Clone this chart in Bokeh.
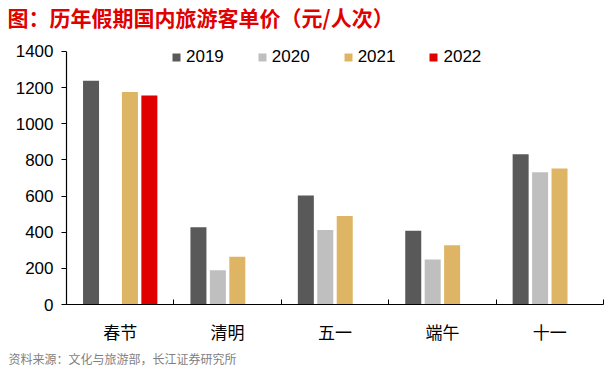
from bokeh.plotting import figure
from bokeh.layouts import column
from bokeh.models import Range1d, FixedTicker, Title, Legend, LegendItem, ColumnDataSource
from bokeh.core.properties import value
from bokeh.embed import file_html
from bokeh.resources import INLINE

# ---- data ----
categories = ["春节", "清明", "五一", "端午", "十一"]
years = ["2019", "2020", "2021", "2022"]
v2019 = [1238, 427, 603, 408, 831]
v2020 = [None, 189, 412, 249, 731]
v2021 = [1176, 264, 490, 328, 752]
v2022 = [1156, None, None, None, None]
series = [v2019, v2020, v2021, v2022]
colors = ["#595959", "#BFBFBF", "#DEB465", "#E00000"]
y_ticks = [0, 200, 400, 600, 800, 1000, 1200, 1400]
title_text = "图：历年假期国内旅游客单价（元/人次）"
source_text = "资料来源：文化与旅游部，长江证券研究所"

CJK = "Noto Sans CJK SC"
LAT = "Liberation Sans"
W = 610
H_TOP = 40
H_MAIN = 327

# ---- title strip (a figure of its own, so that nothing is clipped) ----
pt = figure(width=W, height=H_TOP, x_range=Range1d(0, W), y_range=Range1d(H_TOP, 0),
            output_backend="svg", toolbar_location=None,
            min_border_left=0, min_border_right=0, min_border_top=0, min_border_bottom=0)
pt.frame_align = False
pt.axis.visible = False
pt.grid.visible = False
pt.outline_line_color = None
pt.title.visible = False
pt.text(x=[7], y=[16.5], text=[title_text], text_font=value(CJK), text_font_size="21px",
        text_font_style="bold", text_color="#E00000", text_baseline="middle", text_align="left")

# ---- main chart ----
n = len(categories)
y_max = y_ticks[-1]
p = figure(width=W, height=H_MAIN, x_range=Range1d(0, n), y_range=Range1d(0, y_max * 1.03125),
           output_backend="svg", toolbar_location=None,
           min_border_left=66, min_border_right=7, min_border_top=3, min_border_bottom=60)
p.frame_align = False
p.title.visible = False
p.outline_line_color = None
p.xgrid.visible = False
p.ygrid.visible = False
p.background_fill_color = "white"
p.border_fill_color = "white"

step = 0.181
width = 0.149
items = []
for j, (yr, vals, col) in enumerate(zip(years, series, colors)):
    off = (j - 1.5) * step
    xs = [i + 0.5 + off for i, v in enumerate(vals) if v is not None]
    tops = [v for v in vals if v is not None]
    src = ColumnDataSource(dict(x=xs, top=tops))
    r = p.vbar(x="x", top="top", width=width, bottom=0, source=src,
               fill_color=col, line_color=None)
    items.append(LegendItem(label=yr, renderers=[r]))

legend = Legend(items=items, orientation="horizontal", location=(105, 237),
                padding=0, margin=0, spacing=33, label_standoff=5,
                glyph_width=10, glyph_height=10, label_height=20,
                label_text_font=LAT, label_text_font_size="17px",
                label_text_color="black",
                background_fill_alpha=0, border_line_color=None)
p.add_layout(legend, "center")

# y axis
ya = p.yaxis[0]
ya.ticker = FixedTicker(ticks=y_ticks)
ya.bounds = (0, y_max)
ya.axis_line_color = "black"
ya.axis_line_width = 1.2
ya.major_tick_line_color = "black"
ya.major_tick_in = 0
ya.major_tick_out = 5
ya.minor_tick_line_color = None
ya.major_label_text_font = LAT
ya.major_label_text_font_size = "17px"
ya.major_label_text_color = "black"
ya.major_label_standoff = 8

# x axis
xa = p.xaxis[0]
xa.ticker = FixedTicker(ticks=[i + 0.5 for i in range(n)], minor_ticks=list(range(n + 1)))
xa.major_label_overrides = {i + 0.5: c for i, c in enumerate(categories)}
xa.axis_line_color = "black"
xa.axis_line_width = 1.2
xa.major_tick_line_color = None
xa.minor_tick_line_color = "black"
xa.minor_tick_in = 5
xa.minor_tick_out = 0
xa.major_label_text_font = CJK
xa.major_label_text_font_size = "17px"
xa.major_label_text_color = "black"
xa.major_label_standoff = 8

p.add_layout(Title(text=source_text, align="left", offset=-58, standoff=2,
                   text_font=CJK, text_font_size="12px", text_font_style="normal",
                   text_color="#7F7F7F"), "below")

layout = column(pt, p, spacing=0)
open("out.html", "w").write(file_html(layout, INLINE))
